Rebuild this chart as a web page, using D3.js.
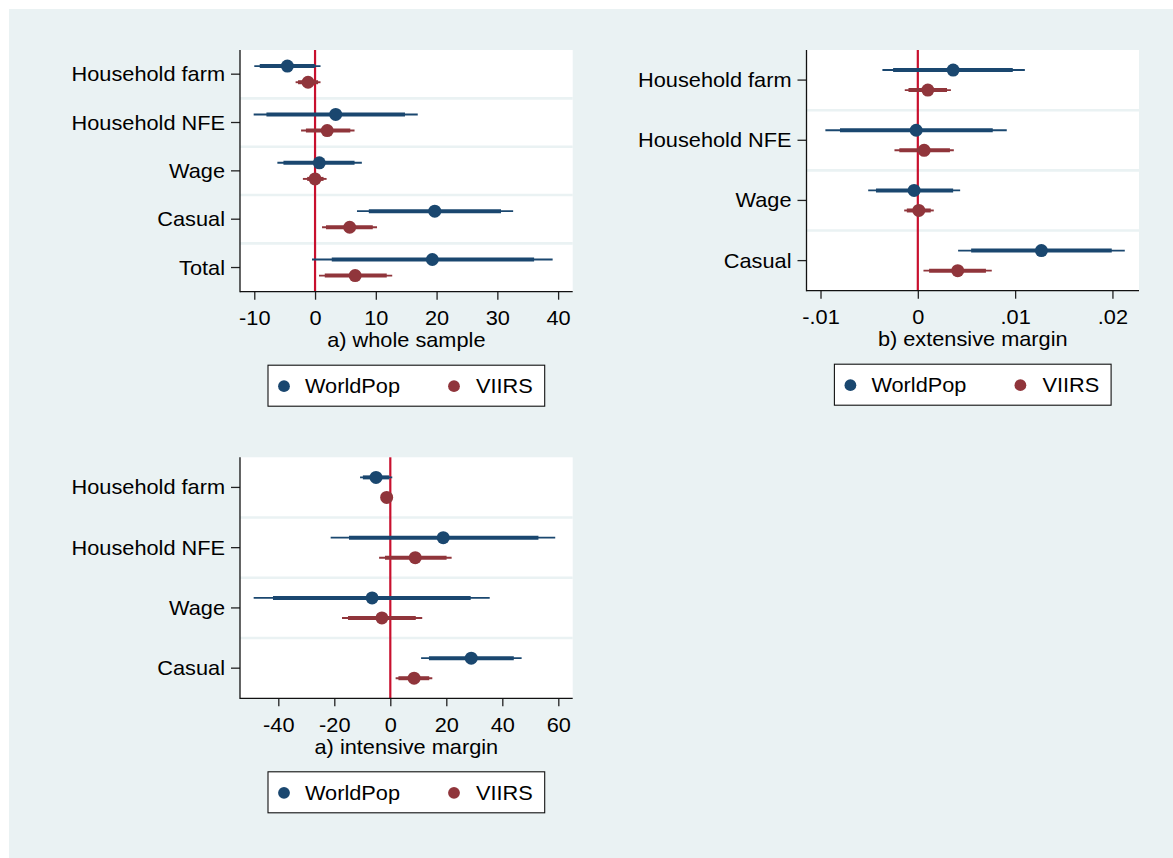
<!DOCTYPE html>
<html>
<head>
<meta charset="utf-8">
<script src="https://cdn.jsdelivr.net/npm/d3@7"></script>
<style>
  html, body { margin: 0; padding: 0; background: #ffffff; }
  svg { display: block; }
  text { font-family: "Liberation Sans", Arial, Helvetica, sans-serif; fill: #000; }
</style>
</head>
<body>
<svg id="chart" width="1173" height="858"></svg>
<script>
// ---- Categories ----
const catsWhole = ["Household farm", "Household NFE", "Wage", "Casual", "Total"];
const catsMargin = ["Household farm", "Household NFE", "Wage", "Casual"];

// ---- Series labels ----
const seriesNames = ["WorldPop", "VIIRS"];
const seriesColors = ["#1a476f", "#90353b"];

// ---- a) whole sample: estimate, 95% CI, 90% CI ----
const wholeWpEst  = [-4.55, 3.4, 0.7, 19.7, 19.3];
const wholeWpLo95 = [-10.0, -10.1, -6.2, 6.9, -0.5];
const wholeWpHi95 = [0.9, 16.9, 7.7, 32.6, 39.1];
const wholeWpLo90 = [-9.1, -8.0, -5.2, 8.85, 2.75];
const wholeWpHi90 = [0.0, 14.8, 6.5, 30.6, 36.05];

const wholeVrEst  = [-1.15, 2.0, 0.0, 5.7, 6.6];
const wholeVrLo95 = [-3.2, -2.3, -2.0, 1.15, 0.65];
const wholeVrHi95 = [0.9, 6.5, 1.9, 10.2, 12.7];
const wholeVrLo90 = [-2.8, -1.5, -1.3, 1.8, 1.6];
const wholeVrHi90 = [0.5, 5.8, 1.4, 9.5, 11.8];

// ---- b) extensive margin ----
const extWpEst  = [0.00363, -0.00017, -0.00038, 0.0127];
const extWpLo95 = [-0.00364, -0.0095, -0.0051, 0.00414];
const extWpHi95 = [0.0110, 0.00914, 0.00435, 0.02127];
const extWpLo90 = [-0.00254, -0.0080, -0.0043, 0.00548];
const extWpHi90 = [0.00976, 0.0077, 0.00363, 0.01993];

const extVrEst  = [0.00103, 0.00065, 0.0001, 0.0041];
const extVrLo95 = [-0.00134, -0.0024, -0.0014, 0.00058];
const extVrHi95 = [0.0034, 0.0037, 0.00164, 0.0076];
const extVrLo90 = [-0.00096, -0.0019, -0.00113, 0.00116];
const extVrHi90 = [0.0030, 0.0033, 0.00133, 0.0070];

// ---- intensive margin ----
const intWpEst  = [-5.1, 18.9, -6.5, 28.9];
const intWpLo95 = [-10.8, -21.3, -48.8, 11.0];
const intWpHi95 = [0.7, 58.9, 35.5, 46.9];
const intWpLo90 = [-9.8, -14.75, -41.9, 13.8];
const intWpHi90 = [-0.4, 52.9, 28.7, 44.1];

const intVrEst  = [-1.3, 8.9, -3.0, 8.5];
const intVrLo95 = [-2.2, -4.0, -17.25, 1.9];
const intVrHi95 = [-0.4, 21.9, 11.4, 15.0];
const intVrLo90 = [-2.0, -1.9, -15.1, 2.9];
const intVrHi90 = [-0.6, 20.1, 9.1, 13.9];

// ---- Axis ticks ----
const ticksWhole = [-10, 0, 10, 20, 30, 40];
const ticksExt = [-0.01, 0, 0.01, 0.02];
const tickLabelsExt = ["-.01", "0", ".01", ".02"];
const ticksInt = [-40, -20, 0, 20, 40, 60];

// ---- Panel titles ----
const titleWhole = "a) whole sample";
const titleExt = "b) extensive margin";
const titleInt = "a) intensive margin";

// ---------------------------------------------------------------
const svg = d3.select("#chart");
const FS = 19.6;      // font size
const SX = 1.11;      // horizontal stretch of the lettering
const BG = "#eaf2f3";

svg.append("rect").attr("x", 9).attr("y", 9).attr("width", 1164).attr("height", 849).attr("fill", BG);

function series(est, lo95, hi95, lo90, hi90) {
  return est.map((b, i) => ({ i, b, lo95: lo95[i], hi95: hi95[i], lo90: lo90[i], hi90: hi90[i] }));
}

function placeText(sel, x, y) {
  sel.attr("x", 0).attr("y", 0).attr("dy", null)
     .attr("transform", `translate(${x},${y}) scale(${SX},1)`);
}

function drawPanel(p) {
  const g = svg.append("g");
  const x = d3.scaleLinear().domain(p.domain).range([p.left, p.right]);
  const y = d3.scaleBand().domain(p.cats).range([p.top, p.bottom]).padding(0);
  const bw = y.bandwidth();
  const off = bw / 6;

  // plot region
  g.append("rect").attr("x", p.left).attr("y", p.top)
    .attr("width", p.right - p.left).attr("height", p.bottom - p.top).attr("fill", "#fff");

  // category separators
  g.selectAll("line.sep").data(p.cats.slice(1)).join("line")
    .attr("x1", p.left).attr("x2", p.right)
    .attr("y1", d => y(d)).attr("y2", d => y(d))
    .attr("stroke", BG).attr("stroke-width", 2.6);

  // reference line at zero
  g.append("line").attr("x1", x(0)).attr("x2", x(0))
    .attr("y1", p.top).attr("y2", p.bottom)
    .attr("stroke", "#c8102e").attr("stroke-width", 2.2);

  // series
  p.series.forEach((s, k) => {
    const dy = k === 0 ? -off : off;
    const col = seriesColors[k];
    const sg = g.append("g");
    sg.selectAll("line.ci95").data(s).join("line")
      .attr("x1", d => x(d.lo95)).attr("x2", d => x(d.hi95))
      .attr("y1", d => y(p.cats[d.i]) + bw / 2 + dy).attr("y2", d => y(p.cats[d.i]) + bw / 2 + dy)
      .attr("stroke", col).attr("stroke-width", 1.9);
    sg.selectAll("line.ci90").data(s).join("line")
      .attr("x1", d => x(d.lo90)).attr("x2", d => x(d.hi90))
      .attr("y1", d => y(p.cats[d.i]) + bw / 2 + dy).attr("y2", d => y(p.cats[d.i]) + bw / 2 + dy)
      .attr("stroke", col).attr("stroke-width", 4);
    sg.selectAll("circle").data(s).join("circle")
      .attr("cx", d => x(d.b)).attr("cy", d => y(p.cats[d.i]) + bw / 2 + dy)
      .attr("r", 6.5).attr("fill", col);
  });

  // x axis
  const xa = g.append("g").attr("transform", `translate(0,${p.bottom})`)
    .call(d3.axisBottom(x).tickValues(p.ticks).tickSize(8).tickPadding(0)
      .tickFormat((d, i) => p.tickLabels ? p.tickLabels[i] : String(d)));
  xa.select(".domain").remove();
  xa.selectAll(".tick line").attr("stroke", "#222").attr("stroke-width", 1.3);
  xa.selectAll(".tick text").attr("font-size", FS).attr("font-family", null)
    .attr("text-anchor", "middle").each(function () { placeText(d3.select(this), 0, 33.2); });

  // y axis
  const ya = g.append("g").attr("transform", `translate(${p.left},0)`)
    .call(d3.axisLeft(y).tickSize(9).tickPadding(0));
  ya.select(".domain").remove();
  ya.selectAll(".tick line").attr("stroke", "#222").attr("stroke-width", 1.3);
  ya.selectAll(".tick text").attr("font-size", FS).attr("font-family", null)
    .attr("text-anchor", "end").each(function () { placeText(d3.select(this), -15, 7); });

  // axis lines
  g.append("line").attr("x1", p.left).attr("x2", p.left).attr("y1", p.top).attr("y2", p.bottom + 0.6)
    .attr("stroke", "#111").attr("stroke-width", 1.3);
  g.append("line").attr("x1", p.left).attr("x2", p.right).attr("y1", p.bottom).attr("y2", p.bottom)
    .attr("stroke", "#111").attr("stroke-width", 1.3);

  // axis title
  const cx = (p.left + p.right) / 2;
  g.append("text").attr("font-size", FS).attr("text-anchor", "middle").text(p.title)
    .call(placeText, cx, p.bottom + 55.5);

  // legend
  const lw = 276.7, lh = 41;
  const lx = cx - lw / 2, ly = p.bottom + 73.5;
  const lg = g.append("g");
  lg.append("rect").attr("x", lx).attr("y", ly).attr("width", lw).attr("height", lh)
    .attr("fill", "#fff").attr("stroke", "#111").attr("stroke-width", 1.1);
  const itemX = [[16, 37], [186, 208]];
  seriesNames.forEach((name, k) => {
    lg.append("circle").attr("cx", lx + itemX[k][0]).attr("cy", ly + lh / 2 + 0.5)
      .attr("r", 5.9).attr("fill", seriesColors[k]);
    lg.append("text").attr("font-size", FS).attr("text-anchor", "start").text(name)
      .call(placeText, lx + itemX[k][1], ly + lh / 2 + 7.3);
  });
}

drawPanel({
  left: 240, right: 572.7, top: 50, bottom: 291.7,
  domain: [-12.35, 42.4], cats: catsWhole, ticks: ticksWhole, title: titleWhole,
  series: [
    series(wholeWpEst, wholeWpLo95, wholeWpHi95, wholeWpLo90, wholeWpHi90),
    series(wholeVrEst, wholeVrLo95, wholeVrHi95, wholeVrLo90, wholeVrHi90)
  ]
});

drawPanel({
  left: 806.5, right: 1139, top: 50, bottom: 290.7,
  domain: [-0.01144, 0.02273], cats: catsMargin, ticks: ticksExt, tickLabels: tickLabelsExt, title: titleExt,
  series: [
    series(extWpEst, extWpLo95, extWpHi95, extWpLo90, extWpHi90),
    series(extVrEst, extVrLo95, extVrHi95, extVrLo90, extVrHi90)
  ]
});

drawPanel({
  left: 240, right: 572.7, top: 457.3, bottom: 698.3,
  domain: [-53.68, 65.14], cats: catsMargin, ticks: ticksInt, title: titleInt,
  series: [
    series(intWpEst, intWpLo95, intWpHi95, intWpLo90, intWpHi90),
    series(intVrEst, intVrLo95, intVrHi95, intVrLo90, intVrHi90)
  ]
});
</script>
</body>
</html>
